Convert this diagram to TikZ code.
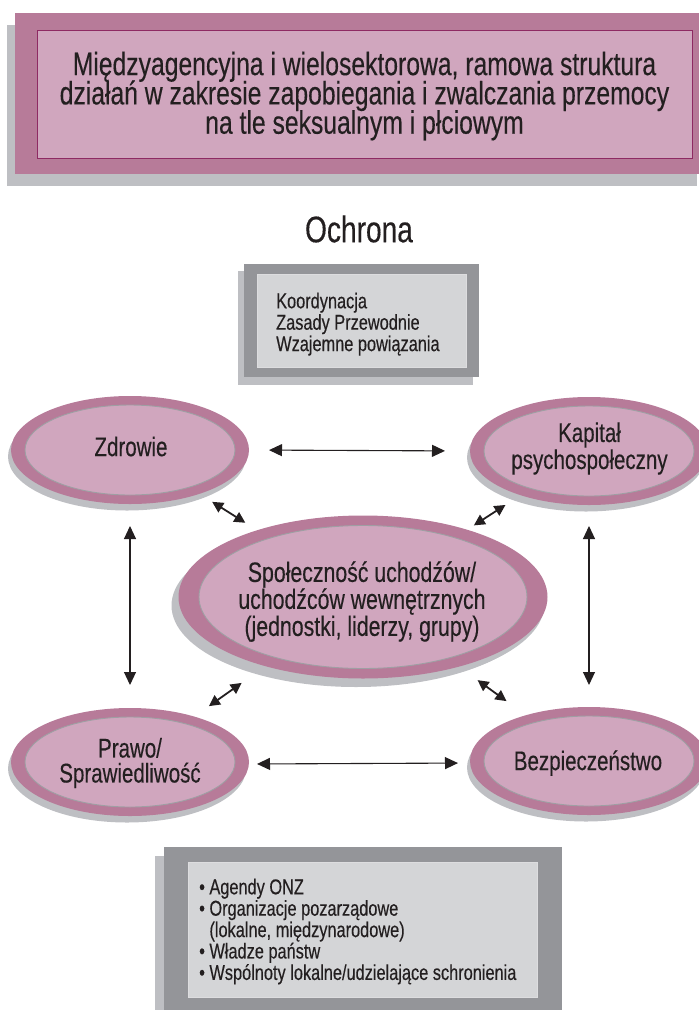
\documentclass[tikz,border=0pt]{standalone}
\usepackage{fontspec}
\setmainfont[FakeStretch=0.76,FakeBold=0.3]{Liberation Sans}
\usetikzlibrary{arrows.meta,shapes.geometric,shadows}
\definecolor{pinkO}{HTML}{B77B99}
\definecolor{pinkI}{HTML}{D0A6BE}
\definecolor{shgray}{HTML}{BEBFC3}
\definecolor{dgray}{HTML}{949599}
\definecolor{lgray}{HTML}{D4D5D7}
\definecolor{txt}{HTML}{231F20}
\definecolor{mag}{HTML}{8E2A63}
\definecolor{ellline}{HTML}{9E9FA3}
\newcommand\myfs[2]{\fontsize{#1}{#2}\selectfont\lineskiplimit=-100pt\relax}
\begin{document}
\begin{tikzpicture}[x=1pt,y=-1pt,
  outerell/.style={ellipse, fill=pinkO, inner sep=0, outer sep=0,
    drop shadow={shadow xshift=-3pt, shadow yshift=-6.5pt, fill=shgray, opacity=1}},
  innerell/.style={ellipse, fill=pinkI, draw=ellline, line width=0.9pt, inner sep=0, outer sep=0},
  lbl/.style={text=txt, align=center, inner sep=0, font=\myfs{27}{27}},
  longarr/.style={draw=txt, line width=1.1pt, >={Triangle[length=13pt,width=12pt]}, <->},
  diagarr/.style={draw=txt, line width=1.8pt, >={Triangle[length=11pt,width=11pt]}, <->},
  boxtxt/.style={text=txt, align=left, anchor=north west, inner sep=0, font=\myfs{21.5}{21.4}}
]
\useasboundingbox (0,0) rectangle (699,1010);
\clip (0,0) rectangle (699,1010);

% title box
\fill[shgray] (7,25) rectangle (697,186);
\fill[pinkO] (15,13) rectangle (705,174);
\filldraw[fill=pinkI, draw=mag, line width=0.8pt] (37,30) rectangle (692,158);
\node[text=txt, align=center, inner sep=0, font=\myfs{32.5}{29.3}] (title) at (364.5,96)
  {Międzyagencyjna i wielosektorowa, ramowa struktura\\działań w zakresie zapobiegania i zwalczania przemocy\\na tle seksualnym i płciowym};

% Ochrona
\node[text=txt, inner sep=0, font=\myfs{37}{40}] (ochr) at (359,229) {Ochrona};

% coordination box
\fill[shgray] (238,271) rectangle (473,385);
\fill[dgray] (244,264) rectangle (479,377);
\filldraw[fill=lgray, draw=lgray!80!white, line width=0.6pt] (257,274) rectangle (466,367);
\node[boxtxt] (koord) at (276,292.5) {Koordynacja\\Zasady Przewodnie\\Wzajemne powiązania};

% ellipses
\node[outerell, minimum width=238pt, minimum height=108pt] (zd) at (130,450) {};
\node[innerell, minimum width=210pt, minimum height=90pt] (zdi) at (zd.center) {};
\node[lbl] (zdt) at (131,446.5) {Zdrowie};

\node[outerell, minimum width=238pt, minimum height=108pt] (kp) at (589,451) {};
\node[innerell, minimum width=210pt, minimum height=90pt] (kpi) at (kp.center) {};
\node[lbl] (kpt) at (589.5,448.5) {Kapitał\\psychospołeczny};

\node[outerell, minimum width=238pt, minimum height=108pt] (pr) at (130,762) {};
\node[innerell, minimum width=210pt, minimum height=90pt] (pri) at (pr.center) {};
\node[lbl, font=\myfs{27}{25}] (prt) at (130,763) {Prawo/\\Sprawiedliwość};

\node[outerell, minimum width=238pt, minimum height=108pt] (bz) at (589,761) {};
\node[innerell, minimum width=210pt, minimum height=90pt] (bzi) at (bz.center) {};
\node[lbl] (bzt) at (588,763) {Bezpieczeństwo};

\node[outerell, minimum width=369pt, minimum height=163pt,
  drop shadow={shadow xshift=-7pt, shadow yshift=-8.5pt, fill=shgray, opacity=1}] (cen) at (363,597) {};
\node[innerell, minimum width=328pt, minimum height=143pt] (ceni) at (cen.center) {};
\node[lbl, font=\myfs{28}{27}] (cent) at (362,601.5)
  {Społeczność uchodźów/\\uchodźców wewnętrznych\\(jednostki, liderzy, grupy)};

% connectors
\draw[longarr, shorten <=20pt, shorten >=25pt] (zd.east) -- (kp.west);
\draw[longarr, shorten <=8pt, shorten >=12pt] ([yshift=-2pt]pr.east) -- ([yshift=-2pt]bz.west);
\draw[longarr, shorten <=22pt, shorten >=23pt] (zd.south) -- (pr.north);
\draw[longarr, shorten <=21pt, shorten >=22pt] (kp.south) -- (bz.north);
\draw[diagarr, shorten <=15pt, shorten >=14pt] (zd) -- (cen);
\draw[diagarr, shorten <=18pt, shorten >=8pt] (kp) -- (cen);
\draw[diagarr, shorten <=18pt, shorten >=29pt] (pr) -- (cen);
\draw[diagarr, shorten <=24pt, shorten >=23pt] (bz) -- (cen);

% actors box
\fill[shgray] (155,856) rectangle (553,1020);
\fill[dgray] (164,847) rectangle (562,1020);
\filldraw[fill=lgray, draw=lgray!80!white, line width=0.6pt] (188,862) rectangle (537,997);
\node[boxtxt] (actors) at (199,878.5)
  {• Agendy ONZ\\• Organizacje pozarządowe\\\hphantom{• }(lokalne, międzynarodowe)\\• Władze państw\\• Wspólnoty lokalne/udzielające schronienia};
\end{tikzpicture}
\end{document}
